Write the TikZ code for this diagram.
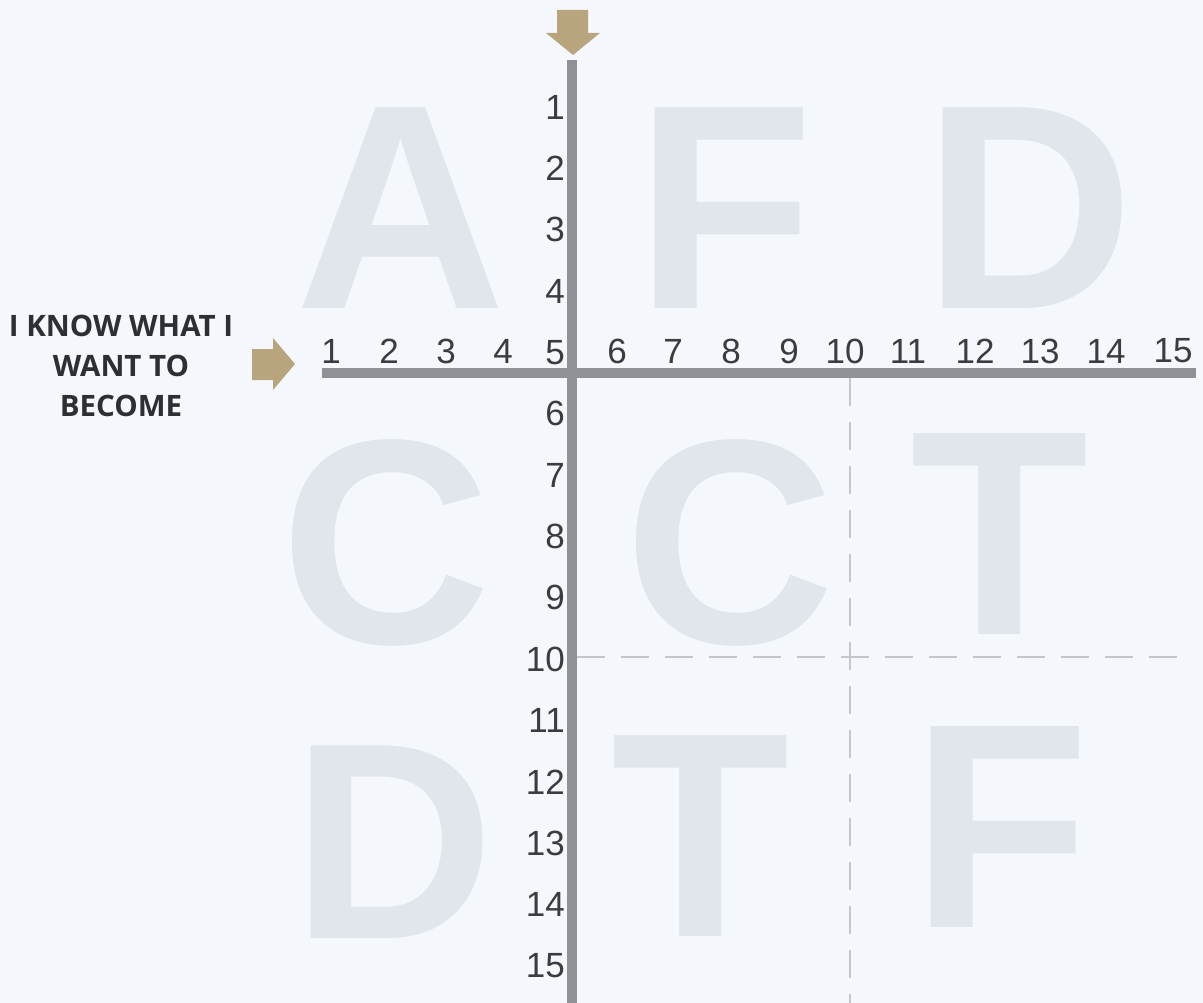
\documentclass[tikz,border=0pt]{standalone}
\usepackage{fontspec}
\setmainfont{Liberation Sans}
\newfontfamily\labelfont{Open Sans}
\definecolor{bgcol}{HTML}{F4F8FD}
\definecolor{lettercol}{HTML}{E1E5EC}
\definecolor{axiscol}{HTML}{8F9197}
\definecolor{numcol}{HTML}{3A3C40}
\definecolor{dashcol}{HTML}{C3C6CC}
\definecolor{arrowcol}{HTML}{B8A57D}
\definecolor{labelcol}{HTML}{2D3033}
\begin{document}
\begin{tikzpicture}[x=1pt,y=-1pt,
  bigletter/.style={inner sep=0pt,text=lettercol,font=\fontsize{292}{292}\selectfont\bfseries},
  numv/.style={inner sep=0pt,anchor=east,text=numcol,font=\fontsize{35}{35}\selectfont},
  numh/.style={inner sep=0pt,anchor=center,text=numcol,font=\fontsize{35}{35}\selectfont},
  axisline/.style={draw=axiscol,line width=10pt},
  guide/.style={draw=dashcol,line width=2.5pt,dash pattern=on 28pt off 16pt},
  tanarrow/.style={fill=arrowcol,draw=none}]
\fill[bgcol] (0,0) rectangle (1203,1003);
\useasboundingbox (0,0) rectangle (1203,1003);
% big letters
\node[bigletter] (lA)  at (400.5,208.5) {A};
\node[bigletter] (lF1) at (725,208.5) {F};
\node[bigletter] (lD1) at (1029,208.5) {D};
\node[bigletter] (lC1) at (385.5,542.5) {C};
\node[bigletter] (lC2) at (730,542.5) {C};
\node[bigletter] (lT1) at (1000,534) {T};
\node[bigletter,font=\fontsize{280}{280}\selectfont\bfseries] (lD2) at (394,842.5) {D};
\node[bigletter] (lT2) at (701,836) {T};
\node[bigletter] (lF2) at (1001,827) {F};
% dashed guides
\coordinate (gv1) at (850,378);
\coordinate (gv2) at (850,1003);
\coordinate (gh1) at (577,657);
\coordinate (gh2) at (1190,657);
\draw[guide] (gv1) -- (gv2);
\draw[guide] (gh1) -- (gh2);
% axes
\coordinate (vtop) at (572,60);
\coordinate (vbot) at (572,1003);
\coordinate (hleft) at (322,373);
\coordinate (hright) at (1196,373);
\draw[axisline] (vtop) -- (vbot);
\draw[axisline] (hleft) -- (hright);
% vertical numbers (5 is shared with the horizontal axis)
\foreach \k in {1,...,15}{
  \node[numv] (v\k) at (565,{107+61.36*(\k-1)}) {\k};
}
% horizontal numbers
\foreach \k/\xx in {1/331,2/389,3/446,4/503,6/617,7/673,8/731,9/789,10/845,11/908,12/975,13/1040,14/1106,15/1173}{
  \node[numh] (h\k) at (\xx,351) {\k};
}
% arrows
\fill[tanarrow] (557,10) -- (588,10) -- (588,33) -- (600,33) -- (573,55) -- (546,33) -- (557,33) -- cycle;
\fill[tanarrow] (252,349) -- (273,349) -- (273,338) -- (295,364) -- (273,390) -- (273,380) -- (252,380) -- cycle;
% label
\node[align=center,inner sep=0pt,text=labelcol,font=\labelfont\bfseries\fontsize{29.5}{40}\selectfont] (lbl) at (121,366) {I KNOW WHAT I\\WANT TO\\BECOME};
\end{tikzpicture}
\end{document}
